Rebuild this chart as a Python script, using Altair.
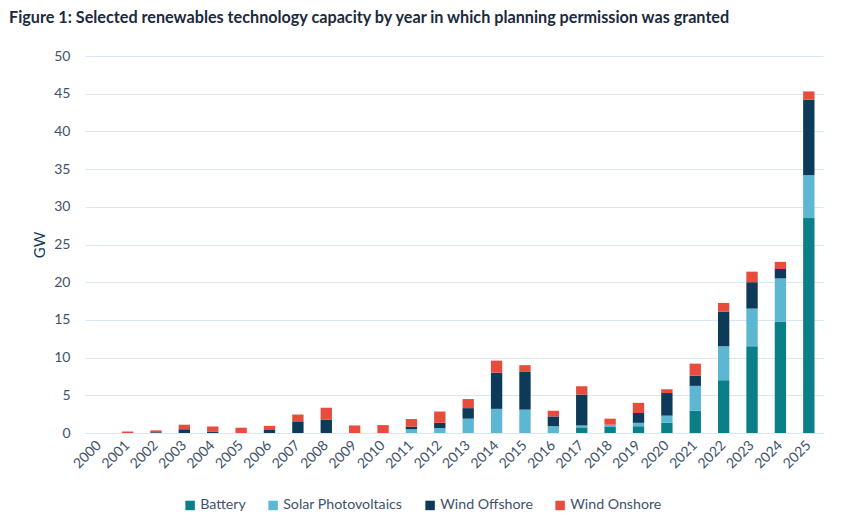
import altair as alt
import pandas as pd

years = [str(y) for y in range(2000, 2026)]
series = ["Battery", "Solar Photovoltaics", "Wind Offshore", "Wind Onshore"]
colors = ["#0b7f88", "#5cb8d2", "#0e3a5a", "#e84c3d"]

battery = [0, 0, 0, 0, 0, 0, 0, 0, 0, 0, 0, 0, 0, 0, 0, 0, 0, 0.75, 0.8, 0.9, 1.35, 2.95, 7.0, 11.5, 14.8, 28.5]
solar = [0, 0, 0, 0, 0, 0, 0, 0, 0, 0, 0, 0.5, 0.65, 1.9, 3.2, 3.1, 0.9, 0.25, 0.3, 0.45, 0.95, 3.3, 4.5, 5.0, 5.7, 5.7]
offshore = [0, 0, 0.1, 0.5, 0.2, 0, 0.4, 1.55, 1.75, 0, 0, 0.35, 0.7, 1.4, 4.8, 5.0, 1.3, 4.1, 0, 1.3, 3.0, 1.35, 4.6, 3.5, 1.25, 10.0]
onshore = [0, 0.2, 0.25, 0.6, 0.65, 0.7, 0.55, 0.9, 1.6, 1.0, 1.05, 1.0, 1.5, 1.2, 1.6, 0.9, 0.75, 1.1, 0.8, 1.35, 0.5, 1.6, 1.15, 1.4, 0.95, 1.1]

values = [battery, solar, offshore, onshore]
rows = []
for si, (s, vals) in enumerate(zip(series, values)):
    for y, v in zip(years, vals):
        rows.append({"Year": y, "Technology": s, "GW": v, "order": si})
df = pd.DataFrame(rows)

label_color = "#3e526a"
font = "Lato"

chart = alt.Chart(df).mark_bar().encode(
    x=alt.X("Year:N", sort=years,
            scale=alt.Scale(paddingInner=0.6, paddingOuter=0.3),
            axis=alt.Axis(title=None, labelAngle=315, labelAlign="right", labelBaseline="middle",
                          labelPadding=10, ticks=False, domain=True, domainColor="#d6e8f3",
                          labelFont=font, labelFontSize=14, labelColor=label_color)),
    y=alt.Y("GW:Q", stack="zero",
            scale=alt.Scale(domain=[0, 50], nice=False),
            axis=alt.Axis(title="GW", values=list(range(0, 55, 5)), ticks=False, domain=False,
                          gridColor="#d6e8f3", gridWidth=1, labelPadding=15,
                          labelFont=font, labelFontSize=14, labelColor=label_color,
                          titleFont=font, titleFontSize=15, titleFontWeight="normal",
                          titleColor="#1c3a57", titlePadding=6)),
    color=alt.Color("Technology:N", sort=series,
                    scale=alt.Scale(domain=series, range=colors),
                    legend=alt.Legend(title=None, orient="none", legendX=98, legendY=442,
                                      direction="horizontal", columns=4, symbolType="square",
                                      symbolSize=90, symbolStrokeWidth=0, columnPadding=20,
                                      labelOffset=3, labelFont=font, labelFontSize=14.2,
                                      labelColor=label_color)),
    order=alt.Order("order:Q", sort="ascending"),
).properties(
    width=738,
    height=377,
    autosize="none",
    padding={"left": 77, "top": 48, "right": 12, "bottom": 85},
    title=alt.TitleParams(
        "Figure 1: Selected renewables technology capacity by year in which planning permission was granted",
        anchor="start", frame="group", dx=-76, offset=23, font=font, fontSize=16.2,
        fontWeight="bold", color="#1b2a3d"),
).configure_view(stroke=None)

chart.save("out.html", embed_options={"renderer": "svg", "actions": False})
